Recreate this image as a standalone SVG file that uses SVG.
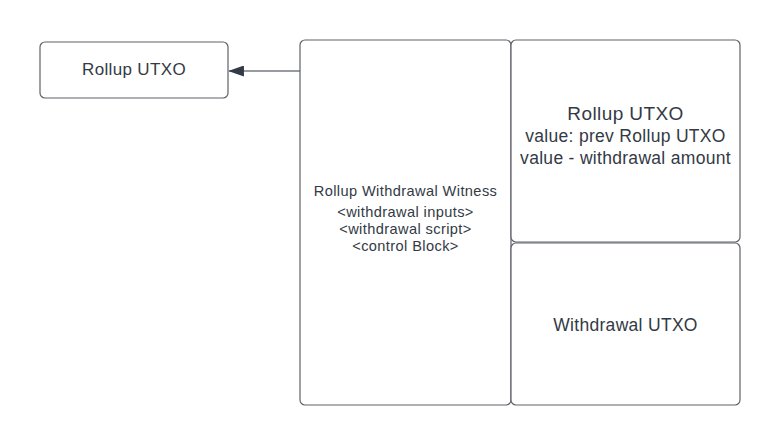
<svg xmlns="http://www.w3.org/2000/svg" width="780" height="446" viewBox="0 0 780 446">
<style>
.box{fill:#fff;stroke:#5e6268;stroke-width:1.2}
text{font-family:"Liberation Sans",Arial,sans-serif;fill:#333a45;text-anchor:middle}
.t16{font-size:17px;letter-spacing:0.35px}
.t14{font-size:14.6px;letter-spacing:0.4px}
.t19{font-size:19px;letter-spacing:0.4px}
.t17{font-size:17.5px;letter-spacing:0.3px}
.conn{stroke:#333a45;stroke-width:1.2;fill:none}
</style>
<defs>
<marker id="ah" viewBox="0 0 20 14" refX="19" refY="7" markerWidth="16" markerHeight="11" markerUnits="userSpaceOnUse" orient="auto">
<path d="M0,0 L20,7 L0,14 Z" fill="#333a45"/>
</marker>
</defs>
<rect width="780" height="446" fill="#fff"/>
<g id="connectors">
<path class="conn" d="M300,71 H229" marker-end="url(#ah)"/>
</g>
<g id="rollup-utxo-left">
<rect class="box" x="40" y="42" width="188" height="56" rx="5"/>
<text class="t16" x="134" y="75">Rollup UTXO</text>
</g>
<g id="witness">
<rect class="box" x="300" y="40" width="211" height="365" rx="5"/>
<text class="t14" x="405.5" y="196">Rollup Withdrawal Witness</text>
<text class="t14" x="405.5" y="217">&lt;withdrawal inputs&gt;</text>
<text class="t14" x="405.5" y="234">&lt;withdrawal script&gt;</text>
<text class="t14" x="405.5" y="251">&lt;control Block&gt;</text>
</g>
<g id="rollup-utxo-right">
<rect class="box" x="511" y="40" width="229" height="202" rx="5"/>
<text class="t19" x="625.5" y="120">Rollup UTXO</text>
<text class="t17" x="625.5" y="142">value: prev Rollup UTXO</text>
<text class="t17" x="625.5" y="164">value - withdrawal amount</text>
</g>
<g id="withdrawal-utxo">
<rect class="box" x="511" y="243" width="229" height="162" rx="5"/>
<text class="t17" x="625.5" y="331">Withdrawal UTXO</text>
</g>
</svg>
